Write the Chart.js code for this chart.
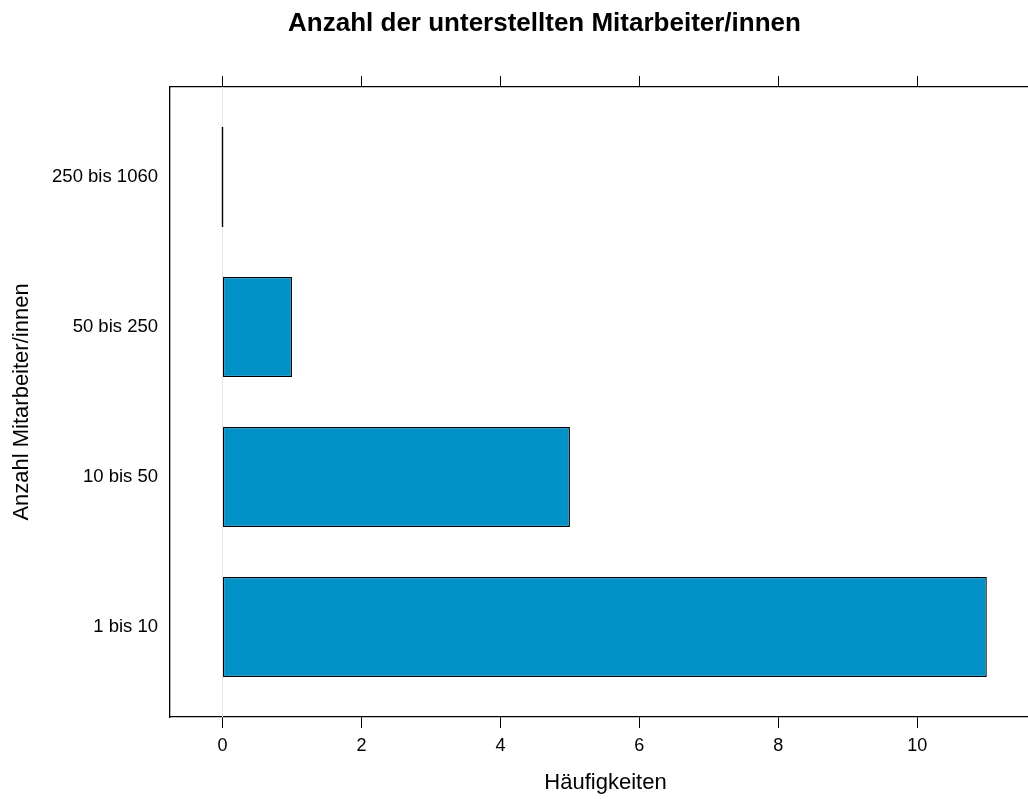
<!DOCTYPE html>
<html><head><meta charset="utf-8">
<script src="https://cdn.jsdelivr.net/npm/chart.js@4"></script>
<style>html,body{margin:0;padding:0;overflow:hidden;background:#fff}#wrap{width:1028px;height:799px;overflow:hidden}</style>
</head><body><div id="wrap"><canvas id="c" width="1089" height="799"></canvas></div>
<script>
const categories = ['1 bis 10', '10 bis 50', '50 bis 250', '250 bis 1060'];
const counts = [11, 5, 1, 0];
const xTicks = [0, 2, 4, 6, 8, 10];
const chartTitle = 'Anzahl der unterstellten Mitarbeiter/innen';
const xTitle = 'Häufigkeiten';
const yTitle = 'Anzahl Mitarbeiter/innen';

const fontFamily = "'Liberation Sans', Arial, Helvetica, sans-serif";
Chart.defaults.font.family = fontFamily;
Chart.defaults.color = '#000';

const extras = {
  id: 'extras',
  beforeDatasetsDraw(chart) {
    const {ctx, chartArea, scales} = chart;
    const px = Math.round(scales.x.getPixelForValue(0)) + 0.5;
    ctx.save();
    ctx.strokeStyle = '#e6e6e6';
    ctx.lineWidth = 1;
    ctx.beginPath();
    ctx.moveTo(px, chartArea.top);
    ctx.lineTo(px, chartArea.bottom);
    ctx.stroke();
    ctx.restore();
  },
  afterDatasetsDraw(chart) {
    const {ctx} = chart;
    const meta = chart.getDatasetMeta(0);
    ctx.save();
    ctx.strokeStyle = '#000';
    ctx.lineWidth = 1.4;
    meta.data.forEach((el, i) => {
      if (counts[i] === 0) {
        const px = Math.round(el.x) + 0.5;
        ctx.beginPath();
        ctx.moveTo(px, el.y - el.height / 2);
        ctx.lineTo(px, el.y + el.height / 2);
        ctx.stroke();
      }
    });
    ctx.restore();
  },
  afterDraw(chart) {
    const {ctx} = chart;
    ctx.save();
    ctx.fillStyle = '#000';
    ctx.font = 'bold 26px ' + fontFamily;
    ctx.textAlign = 'center';
    ctx.textBaseline = 'middle';
    ctx.fillText(chartTitle, chart.width / 2, 23.5);
    ctx.restore();
  }
};

const xMin = -0.755, xMax = 11.78;

new Chart(document.getElementById('c'), {
  type: 'bar',
  data: {
    datasets: [{
      data: counts.map((v, i) => ({x: v, y: i + 1})),
      backgroundColor: '#0291c6',
      borderColor: '#000',
      borderWidth: 1.3,
      borderSkipped: false,
      barPercentage: 2 / 3,
      categoryPercentage: 1,
      xAxisID: 'x',
      yAxisID: 'y'
    }]
  },
  options: {
    indexAxis: 'y',
    responsive: false,
    animation: false,
    layout: {padding: {left: 0, right: 48, top: 0, bottom: 0}},
    plugins: {
      legend: {display: false},
      tooltip: {enabled: false},
      title: {display: false}
    },
    scales: {
      x: {
        type: 'linear', position: 'bottom', min: xMin, max: xMax,
        afterBuildTicks: s => { s.ticks = xTicks.map(v => ({value: v})); },
        ticks: {font: {size: 18}, color: '#000', padding: 7, autoSkip: false, maxRotation: 0},
        grid: {display: true, drawOnChartArea: false, drawTicks: true, tickLength: 11, color: '#000', lineWidth: 1},
        border: {display: true, color: '#000', width: 1.3},
        title: {display: true, text: xTitle, color: '#000', font: {size: 22}, padding: {top: 0, bottom: 3}},
        afterFit: s => { s.height = 82; }
      },
      x2: {
        type: 'linear', position: 'top', min: xMin, max: xMax,
        afterBuildTicks: s => { s.ticks = xTicks.map(v => ({value: v})); },
        ticks: {display: false},
        grid: {display: true, drawOnChartArea: false, drawTicks: true, tickLength: 11, color: '#000', lineWidth: 1},
        border: {display: true, color: '#000', width: 1.3},
        afterFit: s => { s.height = 87; }
      },
      y: {
        type: 'linear', position: 'left', min: 0.4, max: 4.6, offset: false,
        afterBuildTicks: s => { s.ticks = categories.map((_, i) => ({value: i + 1})); },
        ticks: {font: {size: 18.5}, color: '#000', padding: 12, callback: v => categories[v - 1]},
        grid: {display: false, drawTicks: false, offset: false},
        border: {display: true, color: '#000', width: 1.3},
        title: {display: true, text: yTitle, color: '#000', font: {size: 22}, padding: {top: 9, bottom: 0}},
        afterFit: s => { s.width = 170; }
      }
    }
  },
  plugins: [extras]
});
</script>
</body></html>
